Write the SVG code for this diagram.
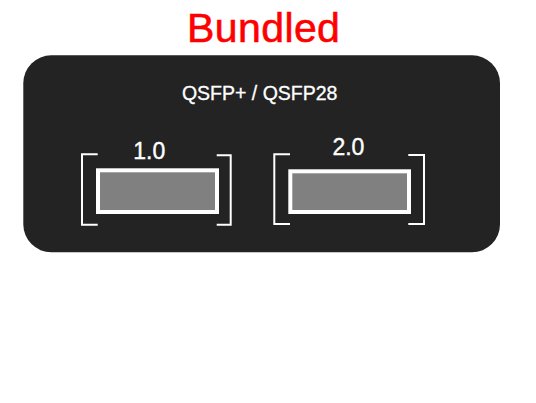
<svg xmlns="http://www.w3.org/2000/svg" width="536" height="403" viewBox="0 0 536 403">
  <style>
    .t { font-family: "Liberation Sans", Arial, Helvetica, sans-serif; text-anchor: middle; }
    .title { fill: #ff0000; stroke: #ff0000; stroke-width: 0.6px; font-size: 41px; letter-spacing: 0.4px; }
    .label { fill: #ffffff; stroke: #ffffff; stroke-width: 0.3px; font-size: 19.5px; }
    .port-label { fill: #ffffff; stroke: #ffffff; stroke-width: 0.4px; font-size: 23px; }
    .bracket { fill: none; stroke: #ffffff; stroke-width: 2; }
    .port { fill: #808080; stroke: #ffffff; stroke-width: 4; }
  </style>
  <rect width="536" height="403" fill="#ffffff"/>
  <text id="title" class="t title" x="263.7" y="42.3">Bundled</text>
  <g id="panel">
    <rect x="23.3" y="55.3" width="476.7" height="197" rx="28" ry="28" fill="#232323"/>
    <text class="t label" x="259.7" y="100">QSFP+ / QSFP28</text>
  </g>
  <g id="port1">
    <path class="bracket" d="M97.7 154.3 H82 V224.7 H97.7"/>
    <path class="bracket" d="M216.7 155.3 H230.7 V224.7 H216.7"/>
    <rect class="port" x="98" y="170.3" width="119" height="41.7"/>
    <text class="t port-label" x="149.2" y="159">1.0</text>
  </g>
  <g id="port2">
    <path class="bracket" d="M290 154.3 H274.3 V224 H290"/>
    <path class="bracket" d="M408.3 155 H424 V224 H408.3"/>
    <rect class="port" x="290.3" y="171.3" width="118.7" height="40.7"/>
    <text class="t port-label" x="348.4" y="155">2.0</text>
  </g>
  <g id="connectors"/>
</svg>
